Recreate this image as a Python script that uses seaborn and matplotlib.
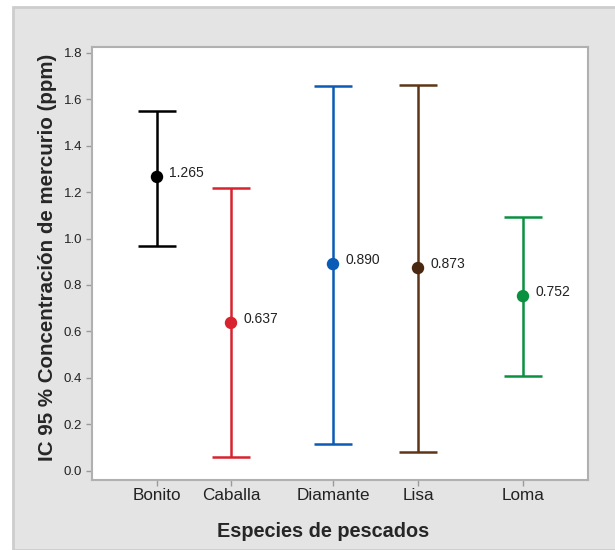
import matplotlib
matplotlib.use("Agg")
import matplotlib.pyplot as plt
from matplotlib.patches import Rectangle
import numpy as np
import seaborn as sns

# datos (IC 95 %)
especies = ["Bonito", "Caballa", "Diamante", "Lisa", "Loma"]
media = [1.265, 0.637, 0.890, 0.873, 0.752]
inferior = [0.968, 0.060, 0.116, 0.082, 0.409]
superior = [1.550, 1.217, 1.656, 1.660, 1.092]
etiquetas = ["1.265", "0.637", "0.890", "0.873", "0.752"]
yticks = [0.0, 0.2, 0.4, 0.6, 0.8, 1.0, 1.2, 1.4, 1.6, 1.8]

# posiciones en el eje x (el original no esta espaciado igual)
pos_x = [0.0, 0.74, 1.76, 2.61, 3.66]
colores = ["#000000", "#d8222e", "#0a5bb5", "#5e3517", "#0a9140"]
colores_punto = ["#000000", "#d8222e", "#0a5bb5", "#4a2710", "#0a9140"]

sns.set_style("white")
plt.rcParams['font.family'] = ['Liberation Sans', 'DejaVu Sans']

fig = plt.figure(figsize=(6.15, 5.5), dpi=100)
fig.patches.append(Rectangle((13 / 615, 0), 1, 543 / 550, transform=fig.transFigure,
                             facecolor="#e4e4e4", edgecolor="#cdcdcd", linewidth=2, zorder=-10))
ax = fig.add_axes([92 / 615, 70 / 550, 496 / 615, 433 / 550])
ax.set_facecolor("white")

# intervalos
for i in range(len(especies)):
    ax.errorbar(pos_x[i], media[i],
                yerr=[[media[i] - inferior[i]], [superior[i] - media[i]]],
                fmt="none", ecolor=colores[i], elinewidth=1.8, capsize=14, capthick=1.8, zorder=2)

sns.scatterplot(x=pos_x, y=media, hue=especies, palette=colores_punto, s=80,
                edgecolor="none", legend=False, ax=ax, zorder=3)

for i in range(len(especies)):
    ax.annotate(etiquetas[i], (pos_x[i], media[i]), xytext=(9, 3), textcoords="offset points",
                ha="left", va="center", fontsize=10, color="#222222")

ax.set_xlim(-0.65, 4.31)
ax.set_ylim(-0.039, 1.824)
ax.set_xticks(pos_x)
ax.set_xticklabels(especies, fontsize=12.3, color="#222222")
ax.set_yticks(yticks)
ax.set_yticklabels([f"{v:.1f}" for v in yticks], fontsize=9.5, color="#222222")
ax.tick_params(axis="both", direction="out", length=4, width=1, color="#9a9a9a",
               left=True, bottom=True)
ax.tick_params(axis="x", pad=2)
ax.tick_params(axis="y", pad=3)
for s in ax.spines.values():
    s.set_color("#b0b0b0")
    s.set_linewidth(1.5)

ax.set_xlabel("Especies de pescados", fontsize=14.3, fontweight="bold")
ax.xaxis.set_label_coords(0.466, -0.097)
ax.set_ylabel("IC 95 % Concentración de mercurio (ppm)", fontsize=14.8, fontweight="bold")
ax.yaxis.set_label_coords(-0.071, 0.513)

fig.savefig("out.png", dpi=100)
